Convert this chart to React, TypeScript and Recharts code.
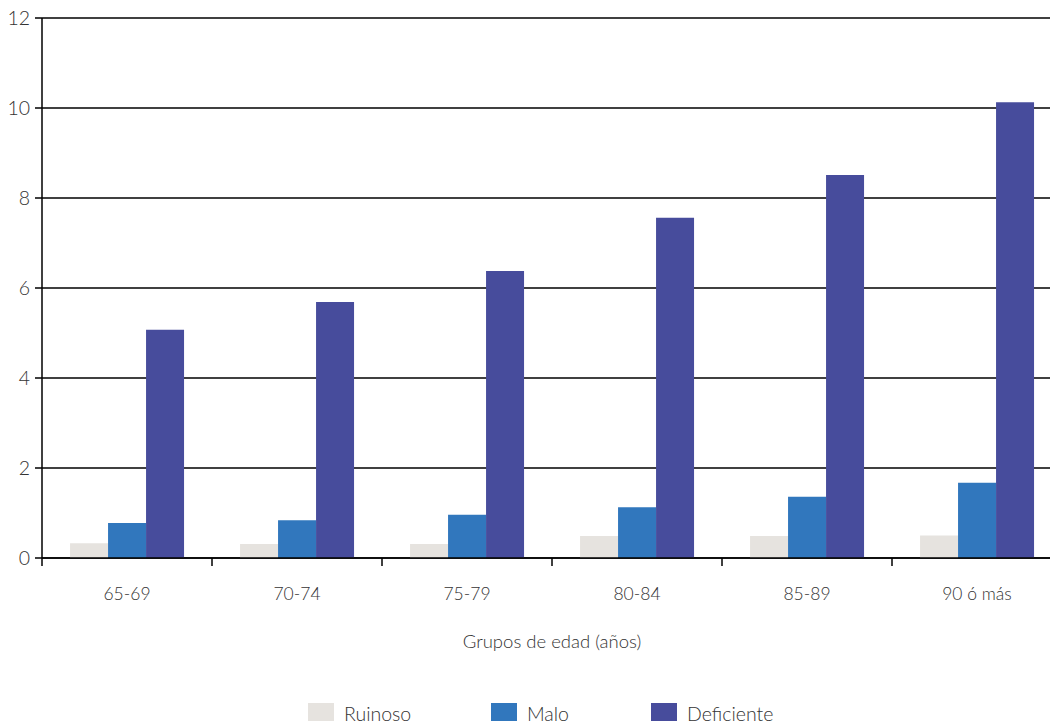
import React from 'react';
import { BarChart, Bar, XAxis, YAxis, CartesianGrid, Legend } from 'recharts';

const categories = ['65-69', '70-74', '75-79', '80-84', '85-89', '90 ó más'];
const ruinoso = [0.33, 0.31, 0.31, 0.49, 0.49, 0.5];
const malo = [0.78, 0.84, 0.96, 1.13, 1.36, 1.67];
const deficiente = [5.07, 5.69, 6.38, 7.56, 8.51, 10.13];
const yTicks = [0, 2, 4, 6, 8, 10, 12];

const seriesNames = ['Ruinoso', 'Malo', 'Deficiente'];
const seriesColors = ['#e6e3df', '#3177bd', '#474c9c'];

const data = categories.map((c, i) => ({
  cat: c,
  Ruinoso: ruinoso[i],
  Malo: malo[i],
  Deficiente: deficiente[i],
}));

const FONT = 'Lato, "Open Sans", sans-serif';
const WEIGHT = 300;
const TEXT = '#333333';

const XTick = (props: any) => {
  const { x, y, payload, width, visibleTicksCount, index } = props;
  const half = payload && payload.offset ? payload.offset : width / visibleTicksCount / 2;
  const axisY = y - 30;
  return (
    <g>
      <line x1={x - half} x2={x - half} y1={axisY} y2={axisY + 8} stroke="#000" strokeWidth={1.5} />
      {index === visibleTicksCount - 1 && (
        <line x1={x + half} x2={x + half} y1={axisY} y2={axisY + 8} stroke="#000" strokeWidth={1.5} />
      )}
      <text x={x} y={y} dy="0.71em" textAnchor="middle" fill={TEXT} fontSize={17.5} fontFamily={FONT} fontWeight={WEIGHT}>
        {payload.value}
      </text>
    </g>
  );
};

const legendLefts = [308, 491, 651];

const LegendContent = () => (
  <div style={{ position: 'relative', width: 1070, height: 30 }}>
    {seriesNames.map((n, i) => (
      <div
        key={n}
        style={{ position: 'absolute', left: legendLefts[i], top: 0, display: 'flex', alignItems: 'flex-start' }}
      >
        <div style={{ width: 26, height: 18, background: seriesColors[i] }} />
        <span style={{ marginLeft: 10, fontSize: 19.5, fontFamily: FONT, fontWeight: WEIGHT, color: TEXT, lineHeight: '22px' }}>
          {n}
        </span>
      </div>
    ))}
  </div>
);

export default function App() {
  return (
    <div style={{ position: 'absolute', left: 0, top: 0, width: 1050, height: 721, overflow: 'hidden', background: '#fff' }}>
      <BarChart
        width={1070}
        height={721}
        data={data}
        margin={{ top: 18, right: 8, left: 0, bottom: 63 }}
        barCategoryGap="16.5%"
        barGap={0}
      >
        <CartesianGrid vertical={false} stroke="#000" strokeWidth={1.5} />
        <XAxis
          dataKey="cat"
          stroke="#000"
          strokeWidth={1.5}
          tickLine={false}
          tickSize={0}
          tickMargin={30}
          height={100}
          interval={0}
          tick={<XTick />}
          label={{ value: 'Grupos de edad (años)', position: 'insideBottom', offset: 10, fill: TEXT, fontSize: 18.5, fontFamily: FONT, fontWeight: WEIGHT }}
        />
        <YAxis
          width={42}
          domain={[0, 12]}
          ticks={yTicks}
          stroke="#000"
          strokeWidth={1.5}
          tickSize={7}
          tickMargin={5}
          tick={{ fill: TEXT, fontSize: 19.5, fontFamily: FONT, fontWeight: WEIGHT }}
          interval={0}
        />
        <Legend
          layout="vertical"
          align="center"
          verticalAlign="middle"
          content={<LegendContent />}
          wrapperStyle={{ position: 'absolute', left: 0, top: 703, width: 1070 }}
        />
        {seriesNames.map((n, i) => (
          <Bar key={n} dataKey={n} fill={seriesColors[i]} isAnimationActive={false} />
        ))}
      </BarChart>
    </div>
  );
}
